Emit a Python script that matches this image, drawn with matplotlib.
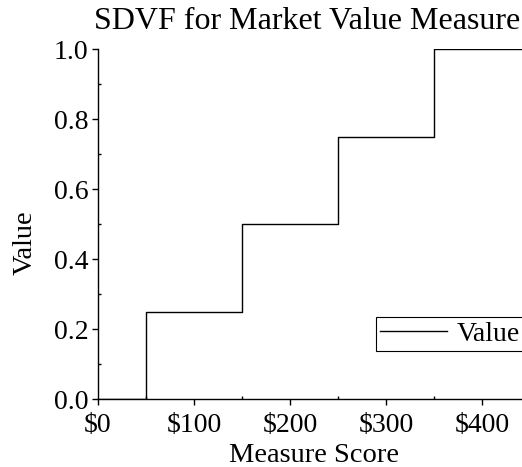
import matplotlib
matplotlib.use("Agg")
from matplotlib import pyplot as plt
from matplotlib.ticker import MultipleLocator, FuncFormatter

# Step value function data
measure_scores = [0, 50, 150, 250, 350, 450]
values = [0.0, 0.25, 0.5, 0.75, 1.0, 1.0]
x_ticks = [0, 100, 200, 300, 400]
y_ticks = [0.0, 0.2, 0.4, 0.6, 0.8, 1.0]

plt.rcParams["font.family"] = ["Liberation Serif", "DejaVu Serif"]

fig = plt.figure(figsize=(5.22, 4.67), dpi=100)
ax = fig.add_axes([0.1877, 0.1456, 0.828, 0.749])

ax.step(measure_scores, values, where="post", color="black", linewidth=1.0, label="Value")

ax.set_xlim(0, 450)
ax.set_ylim(0, 1.0)
ax.set_xticks(x_ticks)
ax.set_yticks(y_ticks)
ax.xaxis.set_minor_locator(MultipleLocator(50))
ax.yaxis.set_minor_locator(MultipleLocator(0.1))
ax.xaxis.set_major_formatter(FuncFormatter(lambda v, p: f"${v:.0f}"))
ax.yaxis.set_major_formatter(FuncFormatter(lambda v, p: f"{v:.1f}"))

for side in ("top", "right"):
	ax.spines[side].set_visible(False)
for side in ("left", "bottom"):
	ax.spines[side].set_linewidth(1.0)

ax.tick_params(which="major", direction="out", length=4, width=1.0, labelsize=20)
ax.tick_params(axis="x", which="major", pad=6)
ax.tick_params(axis="y", which="major", pad=3)
ax.tick_params(which="minor", direction="in", length=2, width=1.0)

# Title centred a bit left of the axes centre (axes run past the right edge)
fig.text(307 / 522, 1 - 29 / 467, "SDVF for Market Value Measure", fontsize=23,
	ha="center", va="baseline")
ax.set_xlabel("Measure Score", fontsize=20.5, labelpad=4)
ax.set_ylabel("Value", fontsize=20.5)
ax.yaxis.set_label_coords(-0.139, 0.446)

leg = ax.legend(loc="upper left", bbox_to_anchor=(0.6435, 0.234), fontsize=20, fancybox=False,
	framealpha=1, edgecolor="black", borderpad=0.15, borderaxespad=0,
	handlelength=2.4, handletextpad=0.36)
leg.get_frame().set_linewidth(0.8)

fig.savefig("out.png", dpi=100)
